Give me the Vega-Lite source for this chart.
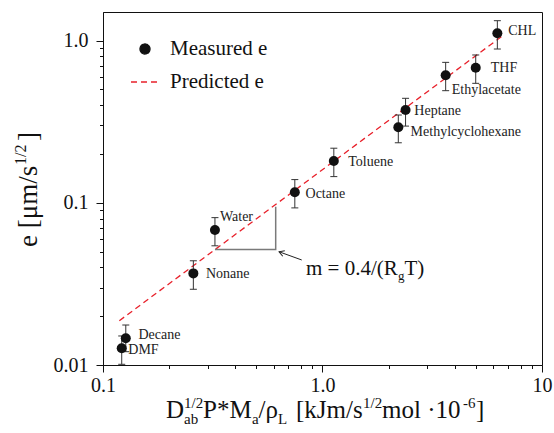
{
  "$schema": "https://vega.github.io/schema/vega-lite/v6.json",
  "width": 439,
  "height": 353,
  "autosize": {"type": "none"},
  "padding": {"left": 103, "top": 12, "right": 12, "bottom": 68},
  "background": "white",
  "config": {
    "view": {"stroke": "#111111", "strokeWidth": 1},
    "font": "Liberation Serif",
    "text": {"font": "Liberation Serif", "color": "#111111"},
    "legend": {"labelFont": "Liberation Serif"}
  },
  "datasets": {
    "pts": [
      {"solvent": "CHL", "x": 6.26, "y": 1.11, "lo": 0.887, "hi": 1.326, "lx": 7.02, "ly": 1.15},
      {"solvent": "THF", "x": 4.99, "y": 0.68, "lo": 0.545, "hi": 0.815, "lx": 5.84, "ly": 0.6745},
      {"solvent": "Ethylacetate", "x": 3.64, "y": 0.6106, "lo": 0.491, "hi": 0.734, "lx": 3.88, "ly": 0.4956},
      {"solvent": "Heptane", "x": 2.39, "y": 0.373, "lo": 0.297, "hi": 0.4406, "lx": 2.62, "ly": 0.3694},
      {"solvent": "Methylcyclohexane", "x": 2.215, "y": 0.2918, "lo": 0.2344, "hi": 0.3476, "lx": 2.52, "ly": 0.2719},
      {"solvent": "Toluene", "x": 1.126, "y": 0.181, "lo": 0.145, "hi": 0.217, "lx": 1.31, "ly": 0.179},
      {"solvent": "Octane", "x": 0.748, "y": 0.116, "lo": 0.093, "hi": 0.139, "lx": 0.837, "ly": 0.114},
      {"solvent": "Water", "x": 0.3236, "y": 0.0679, "lo": 0.0543, "hi": 0.081, "lx": 0.341, "ly": 0.082},
      {"solvent": "Nonane", "x": 0.258, "y": 0.0367, "lo": 0.0293, "hi": 0.0439, "lx": 0.2946, "ly": 0.0364},
      {"solvent": "Decane", "x": 0.127, "y": 0.0146, "lo": 0.01208, "hi": 0.01764, "lx": 0.145, "ly": 0.0153},
      {"solvent": "DMF", "x": 0.1217, "y": 0.01268, "lo": 0.0101, "hi": 0.0151, "lx": 0.1304, "ly": 0.01236}
    ],
    "pred": [
      {"x": 0.1187, "y": 0.01875},
      {"x": 6.55, "y": 1.06}
    ],
    "tri": [
      {"k": 1, "x": 0.3236, "y": 0.0516},
      {"k": 2, "x": 0.612, "y": 0.0516},
      {"k": 3, "x": 0.612, "y": 0.0946}
    ],
    "arrow": [
      {"x": 0.634, "y": 0.0499, "x2": 0.804, "y2": 0.0444}
    ],
    "slopeNote": [{"x": 0.841, "y": 0.0359}],
    "yTitle": [{"x": 0.05, "y": 0.0534}],
    "xTitle": [{"x": 0.1, "y": 0.0047}]
  },
  "encoding": {
    "x": {
      "field": "x", "type": "quantitative", "title": null,
      "scale": {"type": "log", "domain": [0.1, 10], "nice": false},
      "axis": {
        "values": [0.1, 0.2, 0.3, 0.4, 0.5, 0.6, 0.7, 0.8, 0.9, 1, 2, 3, 4, 5, 6, 7, 8, 9, 10],
        "labelExpr": "datum.value == 0.1 ? '0.1' : datum.value == 1 ? '1.0' : datum.value == 10 ? '10' : ''",
        "tickSize": {"condition": {"test": "datum.value == 0.1 || datum.value == 1 || datum.value == 10", "value": 7}, "value": 3.5},
        "tickColor": "#111111", "domainColor": "#111111", "grid": false, "title": null,
        "labelFont": "Liberation Serif", "labelFontSize": 20, "labelColor": "#111111",
        "labelPadding": 3, "labelOverlap": false, "labelFlush": false, "labelBound": false
      }
    },
    "y": {
      "field": "y", "type": "quantitative", "title": null,
      "scale": {"type": "log", "domain": [0.01, 1.5], "nice": false},
      "axis": {
        "values": [0.01, 0.02, 0.03, 0.04, 0.05, 0.06, 0.07, 0.08, 0.09, 0.1, 0.2, 0.3, 0.4, 0.5, 0.6, 0.7, 0.8, 0.9, 1],
        "labelExpr": "datum.value == 0.01 ? '0.01' : datum.value == 0.1 ? '0.1' : datum.value == 1 ? '1.0' : ''",
        "tickSize": {"condition": {"test": "datum.value == 0.01 || datum.value == 0.1 || datum.value == 1", "value": 7}, "value": 3.5},
        "tickColor": "#111111", "domainColor": "#111111", "grid": false, "title": null,
        "labelFont": "Liberation Serif", "labelFontSize": 20, "labelColor": "#111111",
        "labelPadding": 8, "labelOverlap": false, "labelFlush": false, "labelBound": false
      }
    }
  },
  "layer": [
    {
      "data": {"name": "pred"},
      "mark": {"type": "line", "strokeDash": [6, 4], "strokeWidth": 1.3},
      "encoding": {
        "color": {
          "datum": "Predicted e", "type": "nominal",
          "scale": {"domain": ["Measured e", "Predicted e"], "range": ["#111111", "#e8202a"]},
          "legend": {
            "orient": "none", "legendX": 27, "legendY": 22, "title": null,
            "labelFont": "Liberation Serif", "labelFontSize": 21, "labelColor": "#111111",
            "labelOffset": 10, "rowPadding": 8, "symbolSize": 100, "padding": 0,
            "encode": {
              "symbols": {
                "update": {
                  "shape": {"signal": "datum.value === 'Measured e' ? 'circle' : 'stroke'"},
                  "size": {"signal": "datum.value === 'Measured e' ? 100 : 784"},
                  "fill": {"signal": "datum.value === 'Measured e' ? '#111111' : 'transparent'"},
                  "stroke": {"signal": "datum.value === 'Measured e' ? '#111111' : '#e8202a'"},
                  "strokeWidth": {"value": 1.3},
                  "strokeDash": {"signal": "datum.value === 'Measured e' ? [1, 0] : [6, 4]"},
                  "opacity": {"value": 1}
                }
              },
              "labels": {
                "update": {
                  "font": {"value": "Liberation Serif"}
                }
              }
            }
          }
        }
      }
    },
    {
      "data": {"name": "tri"},
      "mark": {"type": "line", "color": "#7a7a7a", "strokeWidth": 1.5},
      "encoding": {"order": {"field": "k", "type": "quantitative"}}
    },
    {
      "data": {"name": "arrow"},
      "mark": {"type": "rule", "color": "#222222", "strokeWidth": 1},
      "encoding": {"x2": {"field": "x2"}, "y2": {"field": "y2"}}
    },
    {
      "data": {"name": "arrow"},
      "mark": {"type": "point", "shape": "M-0.6,1L0,0L0.6,1", "angle": 290, "size": 100, "filled": false, "color": "#222222", "strokeWidth": 1, "opacity": 1}
    },
    {
      "data": {"name": "pts"},
      "mark": {"type": "rule", "color": "#333333", "strokeWidth": 1},
      "encoding": {
        "y": {"field": "lo", "type": "quantitative", "scale": {"type": "log"}},
        "y2": {"field": "hi"}
      }
    },
    {
      "data": {"name": "pts"},
      "mark": {"type": "tick", "orient": "horizontal", "size": 7, "thickness": 1, "color": "#333333", "opacity": 1},
      "encoding": {"y": {"field": "lo", "type": "quantitative", "scale": {"type": "log"}}}
    },
    {
      "data": {"name": "pts"},
      "mark": {"type": "tick", "orient": "horizontal", "size": 7, "thickness": 1, "color": "#333333", "opacity": 1},
      "encoding": {"y": {"field": "hi", "type": "quantitative", "scale": {"type": "log"}}}
    },
    {
      "data": {"name": "pts"},
      "mark": {"type": "point", "filled": true, "size": 100, "opacity": 1},
      "encoding": {"color": {"datum": "Measured e", "type": "nominal"}}
    },
    {
      "data": {"name": "pts"},
      "mark": {"type": "text", "align": "left", "baseline": "middle", "font": "Liberation Serif", "fontSize": 14, "color": "#222222"},
      "encoding": {
        "x": {"field": "lx", "type": "quantitative", "scale": {"type": "log"}},
        "y": {"field": "ly", "type": "quantitative", "scale": {"type": "log"}},
        "text": {"field": "solvent"}
      }
    },
    {"data": {"name": "slopeNote"}, "mark": {"type": "text", "text": "m = 0.4/(R", "align": "left", "baseline": "alphabetic", "fontSize": 21}},
    {"data": {"name": "slopeNote"}, "mark": {"type": "text", "text": "g", "align": "left", "baseline": "alphabetic", "dx": 92, "dy": 5, "fontSize": 13}},
    {"data": {"name": "slopeNote"}, "mark": {"type": "text", "text": "T)", "align": "left", "baseline": "alphabetic", "dx": 98.5, "fontSize": 21}},

    {"data": {"name": "yTitle"}, "mark": {"type": "text", "text": "e [μm/s", "angle": 270, "align": "left", "baseline": "alphabetic", "fontSize": 27}},
    {"data": {"name": "yTitle"}, "mark": {"type": "text", "text": "1/2", "angle": 270, "align": "left", "baseline": "alphabetic", "dx": 82, "dy": -11, "fontSize": 16}},
    {"data": {"name": "yTitle"}, "mark": {"type": "text", "text": "]", "angle": 270, "align": "left", "baseline": "alphabetic", "dx": 106, "fontSize": 27}},

    {"data": {"name": "xTitle"}, "mark": {"type": "text", "text": "D", "align": "left", "baseline": "alphabetic", "dx": 63, "fontSize": 25}},
    {"data": {"name": "xTitle"}, "mark": {"type": "text", "text": "ab", "align": "left", "baseline": "alphabetic", "dx": 81, "dy": 6, "fontSize": 15}},
    {"data": {"name": "xTitle"}, "mark": {"type": "text", "text": "1/2", "align": "left", "baseline": "alphabetic", "dx": 81, "dy": -10, "fontSize": 15}},
    {"data": {"name": "xTitle"}, "mark": {"type": "text", "text": "P*M", "align": "left", "baseline": "alphabetic", "dx": 100, "fontSize": 25}},
    {"data": {"name": "xTitle"}, "mark": {"type": "text", "text": "a", "align": "left", "baseline": "alphabetic", "dx": 149, "dy": 6, "fontSize": 15}},
    {"data": {"name": "xTitle"}, "mark": {"type": "text", "text": "/ρ", "align": "left", "baseline": "alphabetic", "dx": 155.5, "fontSize": 25}},
    {"data": {"name": "xTitle"}, "mark": {"type": "text", "text": "L", "align": "left", "baseline": "alphabetic", "dx": 175, "dy": 6, "fontSize": 15}},
    {"data": {"name": "xTitle"}, "mark": {"type": "text", "text": "[kJm/s", "align": "left", "baseline": "alphabetic", "dx": 193, "fontSize": 25}},
    {"data": {"name": "xTitle"}, "mark": {"type": "text", "text": "1/2", "align": "left", "baseline": "alphabetic", "dx": 260, "dy": -10, "fontSize": 15}},
    {"data": {"name": "xTitle"}, "mark": {"type": "text", "text": "mol ·10", "align": "left", "baseline": "alphabetic", "dx": 279, "fontSize": 25}},
    {"data": {"name": "xTitle"}, "mark": {"type": "text", "text": "-6", "align": "left", "baseline": "alphabetic", "dx": 360, "dy": -10, "fontSize": 15}},
    {"data": {"name": "xTitle"}, "mark": {"type": "text", "text": "]", "align": "left", "baseline": "alphabetic", "dx": 373, "fontSize": 25}}
  ]
}
